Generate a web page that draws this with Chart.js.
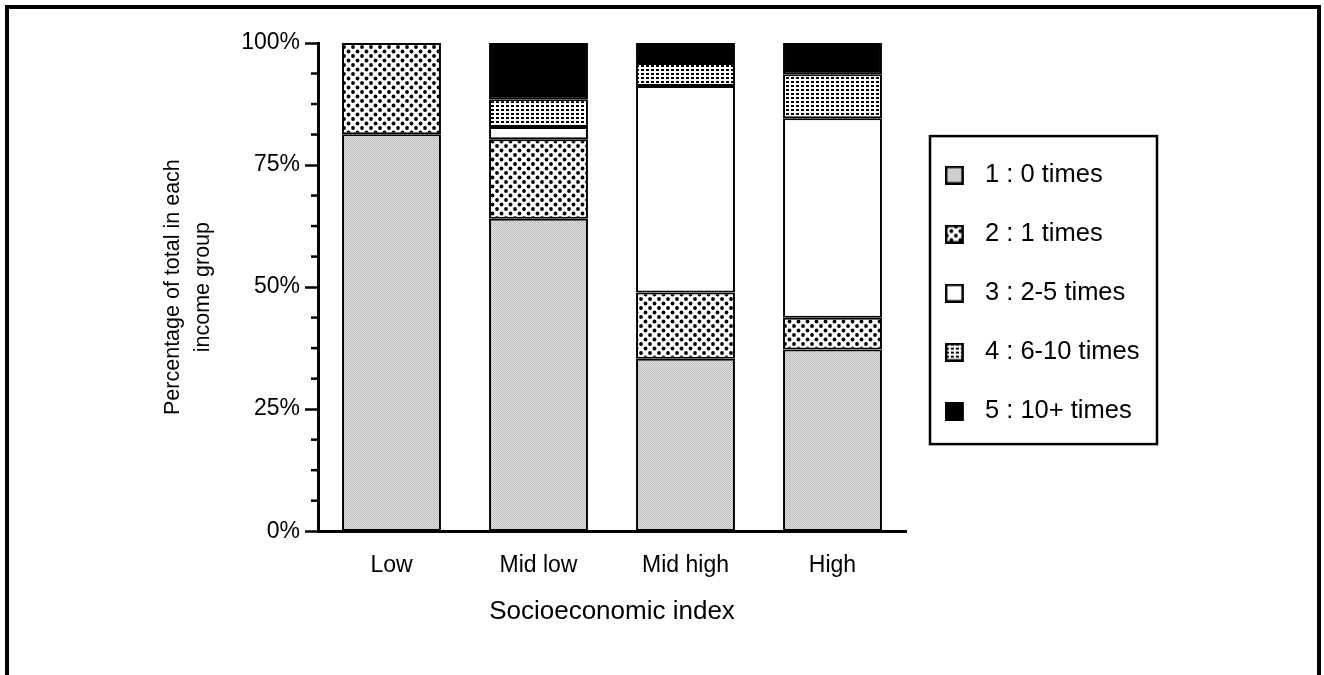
<!DOCTYPE html>
<html>
<head>
<meta charset="utf-8">
<script src="https://cdn.jsdelivr.net/npm/chart.js@4.4.0/dist/chart.umd.min.js"></script>
<style>
html,body{margin:0;padding:0;background:#fff;overflow:hidden;}
#frame{position:absolute;left:5px;top:5px;width:1316px;height:720px;box-sizing:border-box;border:4px solid #000;border-bottom:none;}
#c{position:absolute;left:0;top:0;}
</style>
</head>
<body>
<div id="frame"></div>
<canvas id="c" width="1324" height="675"></canvas>
<script>
// data (percent of each income group)
const categories = ['Low', 'Mid low', 'Mid high', 'High'];
const legendLabels = ['1 : 0 times', '2 : 1 times', '3 : 2-5 times', '4 : 6-10 times', '5 : 10+ times'];
const zeroTimes = [81.3, 64.0, 35.3, 37.2];
const oneTime = [18.7, 16.3, 13.6, 6.5];
const twoToFive = [0, 2.5, 42.3, 40.9];
const sixToTen = [0, 5.7, 4.7, 9.0];
const tenPlus = [0, 11.5, 4.1, 6.4];
const yTickStep = 6.25;
const yLabelEvery = 25;

const fontFamily = '"Liberation Sans", Arial, sans-serif';
Chart.defaults.font.family = fontFamily;
Chart.defaults.color = '#000';

function tile(w, h, draw){
  const c = document.createElement('canvas');
  c.width = w; c.height = h;
  draw(c.getContext('2d'));
  return c;
}

// fill textures
const greyTile = tile(2, 2, g=>{
  g.fillStyle = '#e6e6e6'; g.fillRect(0,0,2,2);
  g.fillStyle = '#b8b8b8'; g.fillRect(0,0,1,1); g.fillRect(1,1,1,1);
});
const dotTile = tile(9, 9, g=>{
  g.fillStyle = '#fff'; g.fillRect(0,0,9,9);
  g.fillStyle = '#000';
  [[2,2],[6.5,6.5]].forEach(p=>{ g.beginPath(); g.arc(p[0], p[1], 1.9, 0, Math.PI*2); g.fill(); });
});
const gridTile = tile(5, 4, g=>{
  g.fillStyle = '#fff'; g.fillRect(0,0,5,4);
  g.fillStyle = '#000'; g.fillRect(1,1,3,2);
});

const ctx = document.getElementById('c').getContext('2d');
const fills = [
  ctx.createPattern(greyTile, 'repeat'),
  ctx.createPattern(dotTile, 'repeat'),
  '#fff',
  ctx.createPattern(gridTile, 'repeat'),
  '#000'
];
const texSrc = [greyTile, dotTile, '#fff', gridTile, '#000'];

function icon(src){
  return tile(22, 19, g=>{
    g.fillStyle = typeof src === 'string' ? src : g.createPattern(src, 'repeat');
    g.fillRect(0,0,19,19);
    g.strokeStyle = '#000'; g.lineWidth = 2.5;
    g.strokeRect(1.25,1.25,16.5,16.5);
  });
}
const icons = texSrc.map(icon);

// legend sizing so the plot area ends where the reference does
const legendFont = 25.5, legendPad = 33.5, legendBoxW = 32.75;
const mctx = document.createElement('canvas').getContext('2d');
mctx.font = legendFont + 'px ' + fontFamily;
const maxText = Math.max(...legendLabels.map(t=>mctx.measureText(t).width));
const legendW = legendPad + legendBoxW + legendFont/2 + maxText + 10;
const padRight = 1324 - 906 - legendW;

const seriesData = [zeroTimes, oneTime, twoToFive, sixToTen, tenPlus];
const datasets = seriesData.map((d,i)=>({
  label: legendLabels[i],
  data: d,
  backgroundColor: fills[i],
  borderColor: '#000',
  borderWidth: 2,
  borderSkipped: false,
  barPercentage: 0.673,
  categoryPercentage: 1
}));

const extras = {
  id: 'extras',
  afterLayout(chart){
    const lg = chart.legend;
    lg.top += 6; lg.bottom += 6;
  },
  afterDraw(chart){
    const c = chart.ctx, y = chart.scales.y;
    c.save();
    c.strokeStyle = '#000';
    c.lineWidth = 2.5;
    // short minor ticks
    y.ticks.forEach(t=>{
      if(t.value % yLabelEvery !== 0){
        const py = y.getPixelForValue(t.value);
        c.beginPath(); c.moveTo(y.right-7, py); c.lineTo(y.right, py); c.stroke();
      }
    });
    // legend frame
    const lg = chart.legend;
    const step = legendFont + legendPad;
    const firstY = (lg.top + legendPad + lg.bottom - lg.columnSizes[0].height)/2 + legendFont/2;
    const left = lg.left + legendPad - 9.5;
    const top = firstY - 39, bottom = firstY + 4*step + 33;
    c.strokeRect(left, top, 227, bottom - top);
    c.restore();
  }
};

new Chart(ctx, {
  type: 'bar',
  data: { labels: categories, datasets },
  options: {
    responsive: false,
    animation: false,
    devicePixelRatio: 1,
    layout: { padding: { top: 43, left: 0, right: padRight, bottom: 48 } },
    plugins: {
      legend: {
        position: 'right',
        fullSize: false,
        onClick: null,
        labels: {
          usePointStyle: true,
          pointStyleWidth: legendBoxW,
          padding: legendPad,
          color: '#000',
          font: { size: legendFont },
          generateLabels(chart){
            const items = Chart.defaults.plugins.legend.labels.generateLabels(chart);
            items.forEach((it,i)=>{ it.pointStyle = icons[i]; });
            return items;
          }
        }
      },
      tooltip: { enabled: false }
    },
    scales: {
      x: {
        stacked: true,
        grid: { display: false },
        border: { display: true, color: '#000', width: 3 },
        ticks: { font: { size: 23 }, padding: 13, color: '#000' },
        title: { display: true, text: 'Socioeconomic index', color: '#000', font: { size: 26 }, padding: { top: 3, bottom: 0 } }
      },
      y: {
        stacked: true,
        min: 0,
        max: 100,
        afterFit(s){ s.width = 318; },
        ticks: {
          stepSize: yTickStep,
          autoSkip: false,
          padding: 5,
          color: '#000',
          font: { size: 23 },
          callback: v => v % yLabelEvery === 0 ? v + '%' : ''
        },
        grid: {
          drawOnChartArea: false,
          tickLength: 13,
          tickWidth: 2.5,
          tickColor: c => (c.tick && c.tick.value % yLabelEvery === 0) ? '#000' : 'rgba(0,0,0,0)'
        },
        border: { display: true, color: '#000', width: 3 },
        title: {
          display: true,
          text: ['Percentage of total in each', 'income group'],
          color: '#000',
          font: { size: 21.5, lineHeight: 1.4 },
          padding: { top: 158 }
        }
      }
    }
  },
  plugins: [extras]
});
</script>
</body>
</html>
